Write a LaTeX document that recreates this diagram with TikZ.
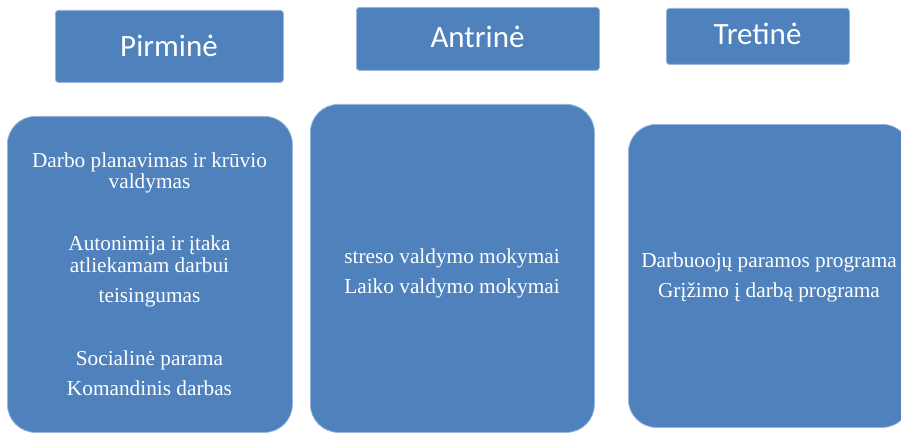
\documentclass[tikz,border=0pt]{standalone}
\usepackage{fontspec}
\setmainfont{Liberation Serif}
\newfontfamily\hdfont{Carlito}
\definecolor{boxblue}{RGB}{79,129,189}
\definecolor{edgeblue}{RGB}{150,180,220}
\begin{document}
\begin{tikzpicture}[x=1pt,y=-1pt,
  hdr/.style={draw=edgeblue,line width=0.8pt,fill=boxblue,rounded corners=3pt,inner sep=0pt,anchor=north west},
  card/.style={draw=edgeblue,line width=0.8pt,fill=boxblue,rounded corners=28pt,inner sep=0pt,anchor=north west},
  hdtext/.style={text=white,font=\hdfont\fontsize{31}{36}\selectfont,anchor=base,inner sep=0pt},
  bodytext/.style={text=white,font=\fontsize{21.3}{24}\selectfont,anchor=base,inner sep=0pt}]
\useasboundingbox (0,0) rectangle (901,433);
\clip (0,0) rectangle (901,433);
% headers
\node[hdr,minimum width=228pt,minimum height=72pt] (h1) at (55,10) {};
\node[hdr,minimum width=243pt,minimum height=63pt] (h2) at (356,7) {};
\node[hdr,minimum width=183pt,minimum height=56pt] (h3) at (666,8) {};
\node[hdtext] (t1) at (169,57) {Pirminė};
\node[hdtext] (t2) at (477.5,48) {Antrinė};
\node[hdtext] (t3) at (757.5,45) {Tretinė};
% cards
\node[card,minimum width=285pt,minimum height=316pt] (b1) at (7,116) {};
\node[card,minimum width=284pt,minimum height=328pt] (b2) at (310,104) {};
\node[card,minimum width=282pt,minimum height=303pt] (b3) at (628,124) {};
% card 1 text
\node[bodytext] (a1) at (149.5,167) {Darbo planavimas ir krūvio};
\node[bodytext] (a2) at (149.5,188) {valdymas};
\node[bodytext] (a3) at (149.5,250) {Autonimija ir įtaka};
\node[bodytext] (a4) at (149.5,272) {atliekamam darbui};
\node[bodytext] (a5) at (149.5,302) {teisingumas};
\node[bodytext] (a6) at (149.5,365) {Socialinė parama};
\node[bodytext] (a7) at (149.5,395) {Komandinis darbas};
% card 2 text
\node[bodytext] (c1) at (452,263) {streso valdymo mokymai};
\node[bodytext] (c2) at (452,293) {Laiko valdymo mokymai};
% card 3 text
\node[bodytext] (d1) at (769,267) {Darbuoojų paramos programa};
\node[bodytext] (d2) at (769,297) {Grįžimo į darbą programa};
\end{tikzpicture}
\end{document}
